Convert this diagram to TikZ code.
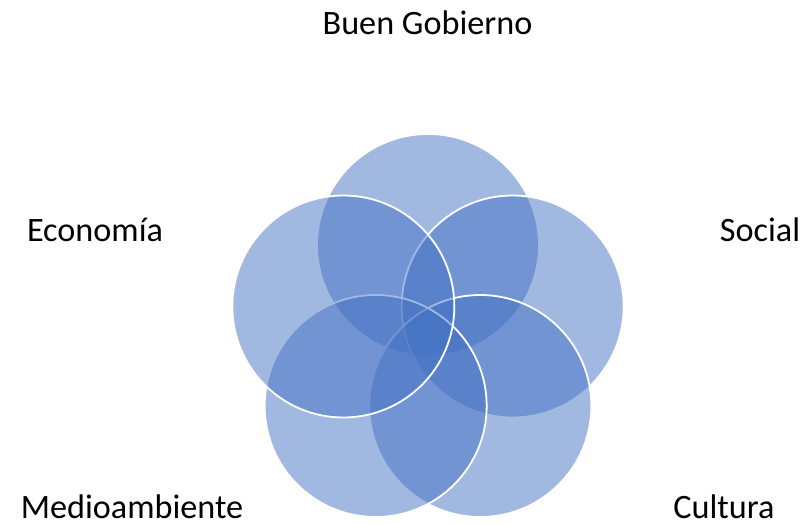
\documentclass[tikz,border=0pt]{standalone}
\usepackage{fontspec}
\setmainfont{Carlito}
\definecolor{vennblue}{RGB}{68,114,196}
\tikzset{
  venn/.style={circle, minimum size=222pt, inner sep=0pt, fill=vennblue,
    fill opacity=0.5, draw=white, draw opacity=1, line width=1.8pt},
  lbl/.style={anchor=base, inner sep=0pt, text depth=0pt, font=\fontsize{34.2}{40}\selectfont}
}
\begin{document}
\begin{tikzpicture}[x=1pt,y=1pt]
  \useasboundingbox[fill=white] (0,0) rectangle (806,524);
  \begin{scope}[shift={(428,190)}]
    \draw
      (90:89) node[venn] (gobierno){}
      (18:89) node[venn] (social){}
      (-54:89) node[venn] (cultura){}
      (234:89) node[venn] (medio){}
      (162:89) node[venn] (economia){};
  \end{scope}
  % labels
  \node[lbl] (tgobierno) at (427.5,489) {Buen Gobierno};
  \node[lbl] (tsocial) at (760,282) {Social};
  \node[lbl] (tcultura) at (724,5.5) {Cultura};
  \node[lbl] (tmedio) at (132,5.5) {Medioambiente};
  \node[lbl] (teconomia) at (95,282) {Economía};
\end{tikzpicture}
\end{document}
